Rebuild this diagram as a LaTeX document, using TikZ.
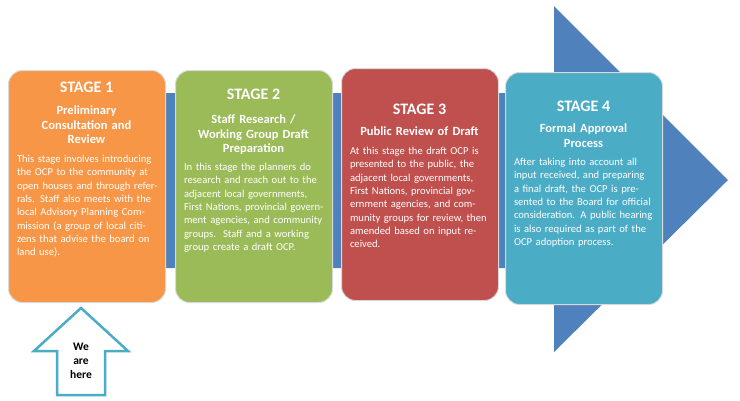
\documentclass[tikz,border=0pt]{standalone}
\usepackage{fontspec}
\setmainfont{Carlito}
\definecolor{cOr}{HTML}{F79646}
\definecolor{cGr}{HTML}{9BBB59}
\definecolor{cRd}{HTML}{C0504D}
\definecolor{cTl}{HTML}{4BACC6}
\definecolor{cBl}{HTML}{4F81BD}
\begin{document}
\begin{tikzpicture}[x=1pt,y=-1pt,
  stagebox/.style={draw=white!85!black,line width=1pt,rounded corners=14pt,minimum width=157pt,minimum height=232pt,inner sep=0pt},
  ttl/.style={text=white,font=\bfseries\fontsize{16}{18}\selectfont,anchor=north},
  sub/.style={text=white,font=\bfseries\fontsize{12.5}{14.5}\selectfont,align=center,text width=150pt,anchor=north,inner sep=0pt},
  body/.style={text=white,font=\fontsize{10.6}{13.3}\selectfont,align=left,text width=142pt,anchor=north,inner sep=0pt}]
\useasboundingbox (0,0) rectangle (740,400);
\fill[white] (0,0) rectangle (740,400);
% big arrow
\fill[cBl] (160,93) -- (554,93) -- (554,6) -- (728,180) -- (554,352) -- (554,268) -- (160,268) -- cycle;
% boxes
\node[stagebox,fill=cOr,anchor=north west] (s1) at (8,70) {};
\node[stagebox,fill=cGr,anchor=north west] (s2) at (175,70) {};
\node[stagebox,fill=cRd,anchor=north west] (s3) at (341,68) {};
\node[stagebox,fill=cTl,anchor=north west] (s4) at (505,72) {};
% stage 1
\node[ttl] (t1) at (86.5,78) {STAGE 1};
\node[sub] (u1) at (86.5,106) {Preliminary\\Consultation and\\Review};
\node[body] (b1) at (88,155) {This stage involves introducing the OCP to the community at open houses and through referrals. Staff also meets with the local Advisory Planning Commission (a group of local citizens that advise the board on land use).};
% stage 2
\node[ttl] (t2) at (253.5,85) {STAGE 2};
\node[sub] (u2) at (253.5,115) {Staff Research /\\Working Group Draft\\Preparation};
\node[body] (b2) at (255,163) {In this stage the planners do research and reach out to the adjacent local governments, First Nations, provincial government agencies, and community groups.\ \ Staff and a working group create a draft OCP.};
% stage 3
\node[ttl] (t3) at (419.5,100) {STAGE 3};
\node[sub] (u3) at (419.5,127) {Public Review of Draft};
\node[body] (b3) at (421,147) {At this stage the draft OCP is presented to the public, the adjacent local governments, First Nations, provincial government agencies, and community groups for review, then amended based on input received.};
% stage 4
\node[ttl] (t4) at (583.5,97) {STAGE 4};
\node[sub] (u4) at (583.5,124) {Formal Approval\\Process};
\node[body] (b4) at (585,158) {After taking into account all input received, and preparing a final draft, the OCP is presented to the Board for official consideration. A public hearing is also required as part of the OCP adoption process.};
% we are here arrow
\draw[cTl,line width=2.5pt,fill=white,line join=miter] (81,308) -- (128,351) -- (105,351) -- (105,395) -- (57,395) -- (57,351) -- (34,351) -- cycle;
\node[font=\bfseries\fontsize{11.5}{14}\selectfont,align=center] (here) at (81,361) {We\\are\\here};
\end{tikzpicture}
\end{document}
